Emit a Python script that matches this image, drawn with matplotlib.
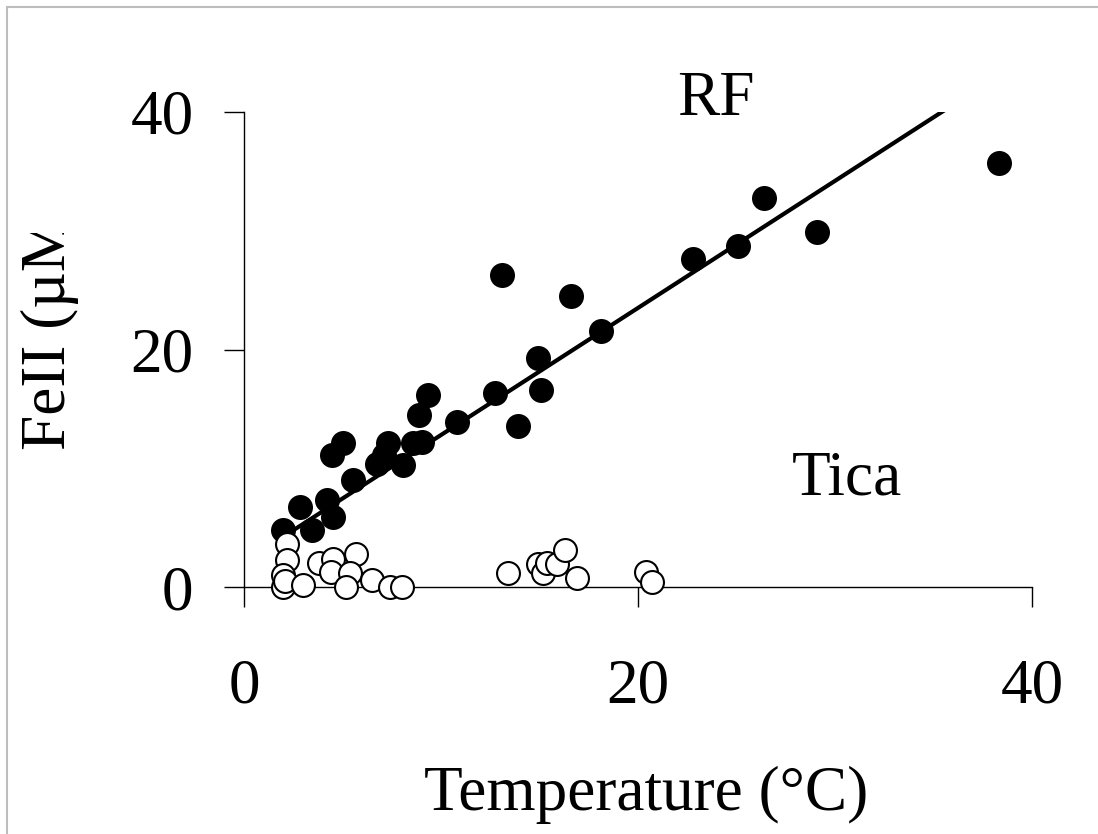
import numpy as np
import matplotlib
matplotlib.use("Agg")
import matplotlib.pyplot as plt
from matplotlib.lines import Line2D
from matplotlib.transforms import Bbox, TransformedBbox

plt.rcParams['font.family'] = ['Liberation Serif', 'DejaVu Serif']

# RF (filled circles)
rf_temp = [1.98, 2.84, 3.45, 4.21, 4.52, 4.47, 5.03, 5.53, 6.75, 7.31, 7.1, 8.07,
           8.58, 9.04, 8.88, 9.34, 10.8, 12.74, 13.1, 13.9, 14.9, 15.1, 16.6,
           18.1, 22.8, 25.1, 26.4, 29.1, 38.3]
rf_fe = [4.8, 6.74, 4.8, 7.33, 5.89, 11.1, 12.1, 9.0, 10.4, 12.1, 11.1, 10.3,
         12.1, 12.2, 14.5, 16.2, 13.9, 16.3, 26.3, 13.6, 19.3, 16.6, 24.5,
         21.6, 27.6, 28.7, 32.8, 29.9, 35.7]

# Tica (open circles)
tica_temp = [2.2, 2.2, 2.0, 2.0, 2.1, 3.0, 3.8, 4.5, 4.4, 5.7, 5.4, 5.2, 6.5,
             7.4, 8.0, 13.4, 14.9, 15.2, 15.4, 15.9, 16.3, 16.9, 20.4, 20.7]
tica_fe = [3.6, 2.3, 1.0, 0.0, 0.5, 0.2, 2.0, 2.4, 1.3, 2.8, 1.2, 0.0, 0.6,
           0.0, 0.0, 1.2, 1.9, 1.2, 2.0, 1.9, 3.1, 0.8, 1.3, 0.4]

# regression for RF
fit_slope = 1.07
fit_intercept = 2.1
fit_range = [1.98, 38.3]

fs = 45.5
W, H = 1098, 834
fig = plt.figure(figsize=(W / 100, H / 100), dpi=100)
ax = fig.add_axes([244 / W, 1 - 587 / H, (1032 - 244) / W, (587 - 112) / H])

fx = np.array(fit_range)
ax.plot(fx, fit_intercept + fit_slope * fx, color='black', lw=3, zorder=2)

ax.scatter(rf_temp, rf_fe, s=18 ** 2, color='black', edgecolors='black',
           linewidths=0, zorder=3, clip_on=False)
ax.scatter(tica_temp, tica_fe, s=16.5 ** 2, facecolors='white', edgecolors='black',
           linewidths=1.5, zorder=4, clip_on=False)

ax.set_xlim(0, 40)
ax.set_ylim(0, 40)
ax.set_xticks([0, 20, 40])
ax.set_yticks([0, 20, 40])
for s in ['top', 'right']:
    ax.spines[s].set_visible(False)
for s in ['left', 'bottom']:
    ax.spines[s].set_linewidth(1.0)
ax.tick_params(axis='x', direction='out', length=14.4, width=1.0, pad=37, labelsize=fs)
ax.tick_params(axis='y', direction='out', length=14.4, width=1.0, pad=22, labelsize=fs)

ax.text(22.0, 39.75, 'RF', fontsize=fs, ha='left', va='baseline')
ax.text(27.8, 7.75, 'Tica', fontsize=fs, ha='left', va='baseline')

fig.text(646 / W, 1 - 810 / H, 'Temperature (°C)', fontsize=fs, ha='center', va='baseline')
yl = fig.text(50 / W, 1 - 450 / H, 'FeII (µM)', fontsize=fs, rotation=90,
              ha='center', va='bottom')
yl.set_clip_box(TransformedBbox(Bbox([[0, 0], [1, 1 - 233 / H]]), fig.transFigure))
yl.set_clip_on(True)

# grey frame of the original slide
fig.add_artist(Line2D([7 / W, 7 / W], [0, 1 - 7 / H], transform=fig.transFigure,
                      color='#BDBDBD', lw=1.5))
fig.add_artist(Line2D([7 / W, 1], [1 - 7 / H, 1 - 7 / H], transform=fig.transFigure,
                      color='#BDBDBD', lw=1.5))

fig.savefig('out.png', dpi=100)
